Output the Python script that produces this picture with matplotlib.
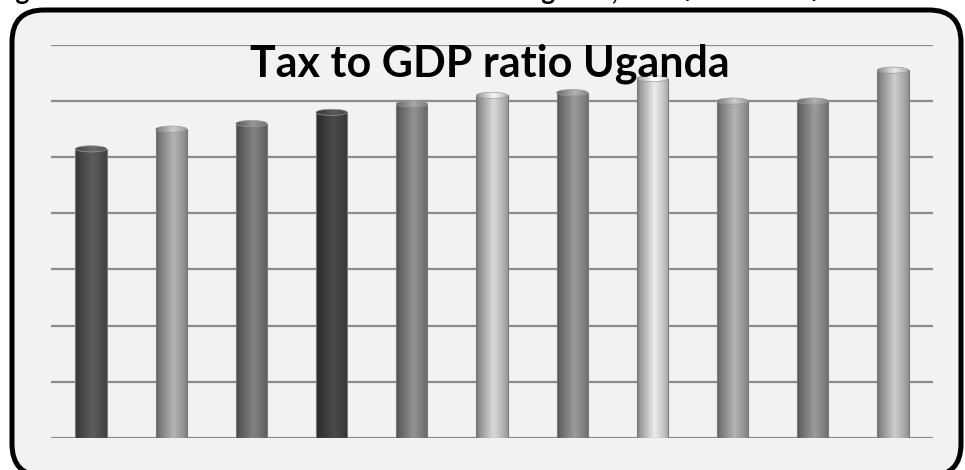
import numpy as np
import matplotlib
matplotlib.use("Agg")
import matplotlib.pyplot as plt
from matplotlib.patches import FancyBboxPatch, Ellipse

plt.rcParams['font.family'] = ['Lato', 'DejaVu Sans']

# tax to GDP ratio (%), one bar per fiscal year
years = ['2007/08', '2008/09', '2009/10', '2010/11', '2011/12', '2012/13',
         '2013/14', '2014/15', '2015/16', '2016/17', '2017/18']
ratio = [10.4, 11.1, 11.3, 11.7, 12.0, 12.3, 12.4, 12.9, 12.1, 12.1, 13.2]
# grey tone for each cylinder
tones = [0.30, 0.58, 0.42, 0.24, 0.47, 0.70, 0.50, 0.76, 0.58, 0.50, 0.66]

W, H = 965, 470
fig = plt.figure(figsize=(W / 100, H / 100), dpi=100)
fig.patch.set_facecolor('white')

# rounded frame behind the chart
bg = fig.add_axes([0, 0, 1, 1], zorder=0)
bg.set_xlim(0, W)
bg.set_ylim(H, 0)
bg.axis('off')
frame = FancyBboxPatch((44, 42), 885, 402, boxstyle="round,pad=32",
                       facecolor='#f2f2f2', edgecolor='black', linewidth=3.6)
bg.add_patch(frame)
bg.text(-6, 0.5, 'Figure 1: Trend of Tax Revenue Indicators of Uganda, 2007/08 - 2017/18',
        fontsize=19, fontweight='bold', ha='left', va='baseline', color='black')

ax = fig.add_axes([51 / W, 32 / H, 882 / W, 393.4 / H], zorder=1)
ax.patch.set_alpha(0)
ax.set_xlim(-0.5, len(years) - 0.5)
ax.set_ylim(0, 14)
ax.set_yticks(np.arange(0, 15, 2))
ax.yaxis.grid(True, color='#8c8c8c', linewidth=1.6)
ax.set_axisbelow(True)
ax.tick_params(length=0, labelbottom=False, labelleft=False)
for s in ax.spines.values():
    s.set_visible(False)

bw = 0.39
cap_h = 0.22
x = np.arange(len(years))
profile_t = [0, 0.08, 0.55, 0.85, 1]
profile_f = [0.6, 0.78, 1.22, 1.0, 0.85]
t = np.linspace(0, 1, 64)
shade = np.interp(t, profile_t, profile_f)

bars = ax.bar(x, [v - cap_h / 2 for v in ratio], width=bw, color='none',
              edgecolor='#7a7a7a', linewidth=0.8, zorder=3)
for xi, v, g, b in zip(x, ratio, tones, bars):
    col = np.clip(g * shade, 0, 1)
    img = np.repeat(col[None, :, None], 3, axis=2)
    im = ax.imshow(img, extent=[xi - bw / 2, xi + bw / 2, 0, v], aspect='auto',
                   zorder=2, interpolation='bilinear')
    im.set_clip_path(b)
    cap = Ellipse((xi, v - cap_h / 2), bw, cap_h, facecolor='none',
                  edgecolor='#9a9a9a', linewidth=0.5, zorder=4)
    ax.add_patch(cap)
    cimg = np.repeat(np.clip(g * shade * 1.1 + 0.03, 0, 1)[None, :, None], 3, axis=2)
    ci = ax.imshow(cimg, extent=[xi - bw / 2, xi + bw / 2, v - cap_h, v], aspect='auto',
                   zorder=3.5, interpolation='bilinear')
    ci.set_clip_path(cap)

ax.set_xlim(-0.5, len(years) - 0.5)
ax.set_ylim(0, 14)

fig.text(490 / W, 1 - 77 / H, 'Tax to GDP ratio Uganda', fontsize=31,
         fontweight='bold', ha='center', va='baseline', zorder=5)

fig.savefig('out.png', dpi=100, facecolor='white')
